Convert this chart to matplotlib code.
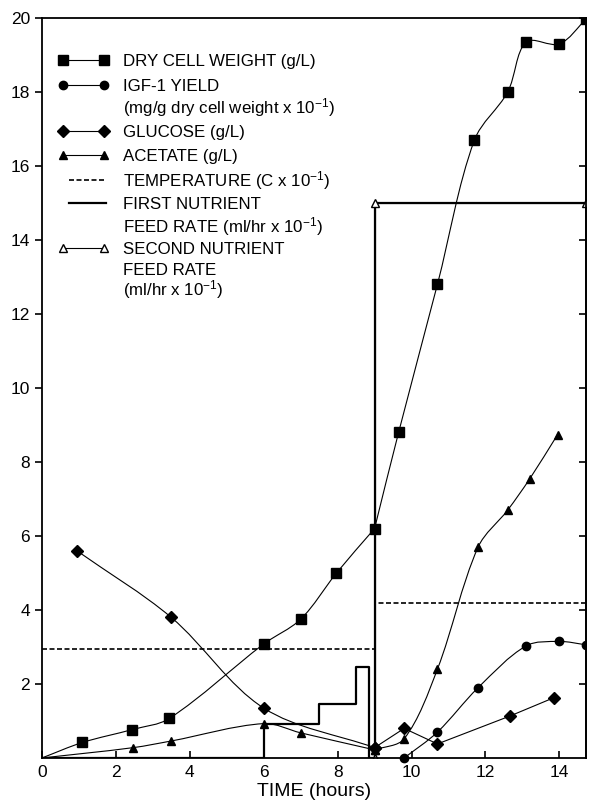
import matplotlib
matplotlib.use('Agg')
import matplotlib.pyplot as plt
import numpy as np
from matplotlib.path import Path
from matplotlib.patches import PathPatch

plt.rcParams['font.family'] = ['Liberation Sans', 'DejaVu Sans']
plt.rcParams['mathtext.fontset'] = 'custom'
plt.rcParams['mathtext.rm'] = 'Liberation Sans'
plt.rcParams['mathtext.it'] = 'Liberation Sans:italic'
plt.rcParams['mathtext.bf'] = 'Liberation Sans:bold'

# dry cell weight (g/L), before / after 9 h
dcw_t1 = [0, 1.1, 2.45, 3.45, 6.0, 7.0, 7.97, 9.0]
dcw1 = [0, 0.42, 0.77, 1.07, 3.08, 3.75, 5.0, 6.2]
dcw_t2 = [9.0, 9.65, 10.7, 11.7, 12.6, 13.1, 14.0, 14.72]
dcw2 = [6.2, 8.8, 12.8, 16.7, 18.0, 19.35, 19.3, 19.97]

# IGF-1 yield
igf_t = [9.8, 10.7, 11.8, 13.1, 14.0, 14.72]
igf = [0.0, 0.7, 1.9, 3.03, 3.15, 3.06]

# glucose (g/L), before / after 9 h
glu_t1 = [0.95, 3.5, 6.0, 9.0]
glu1 = [5.6, 3.8, 1.35, 0.28]
glu_t2 = [9.0, 9.8, 10.7, 12.65, 13.85]
glu2 = [0.28, 0.8, 0.38, 1.13, 1.63]

# acetate (g/L)
ace_t1 = [0, 2.47, 3.5, 6.0, 7.0, 9.0]
ace1 = [0, 0.28, 0.46, 0.93, 0.68, 0.22]
ace_t2 = [9.0, 9.8, 10.7, 11.8, 12.6, 13.2, 13.95]
ace2 = [0.22, 0.52, 2.4, 5.7, 6.7, 7.55, 8.74]

# temperature (C x 10^-1)
temp_t = [0, 9.0, 9.0, 14.72]
temp = [2.95, 2.95, 4.2, 4.2]

# first nutrient feed rate
feed1_t = [0, 6.0, 6.0, 7.5, 7.5, 8.5, 8.5, 8.85, 8.85, 9.0, 9.0, 14.72]
feed1 = [0, 0, 0.93, 0.93, 1.45, 1.45, 2.45, 2.45, 0, 0, 15.0, 15.0]

# second nutrient feed rate
feed2_t = [9.0, 9.0, 14.72]
feed2 = [0, 15.0, 15.0]


def smooth(ax, xs, ys, lw=0.8):
    # smooth curve through the points (bezier, tangents scaled by chord length)
    p = np.column_stack([xs, ys]).astype(float)
    n = len(p)
    d = np.hypot(*(p[1:] - p[:-1]).T)
    tan = np.zeros_like(p)
    tan[0] = (p[1] - p[0]) / d[0]
    tan[-1] = (p[-1] - p[-2]) / d[-1]
    for i in range(1, n - 1):
        tan[i] = (p[i + 1] - p[i - 1]) / (d[i - 1] + d[i])
    verts = [p[0]]
    codes = [Path.MOVETO]
    for i in range(n - 1):
        verts += [p[i] + tan[i] * d[i] / 3, p[i + 1] - tan[i + 1] * d[i] / 3, p[i + 1]]
        codes += [Path.CURVE4] * 3
    ax.add_patch(PathPatch(Path(verts, codes), fill=False, lw=lw, ec='black'))


fig = plt.figure(figsize=(5.89, 8.0), dpi=100)
ax = fig.add_axes([0.071, 0.0525, 0.924, 0.925])

smooth(ax, dcw_t1, dcw1)
smooth(ax, dcw_t2, dcw2)
ax.plot(dcw_t1[1:] + dcw_t2[1:], dcw1[1:] + dcw2[1:], 's', color='black', ms=7.5)

smooth(ax, igf_t, igf)
ax.plot(igf_t[:-1], igf[:-1], 'o', color='black', ms=6, clip_on=False)
ax.plot(igf_t[-1:], igf[-1:], 'o', color='black', ms=6)

smooth(ax, glu_t1, glu1)
ax.plot(glu_t2, glu2, '-', color='black', lw=0.8)
ax.plot(glu_t1 + glu_t2, glu1 + glu2, 'D', color='black', ms=5.8)

smooth(ax, ace_t1, ace1)
smooth(ax, ace_t2, ace2)
ax.plot(ace_t1[1:] + ace_t2, ace1[1:] + ace2, '^', color='black', ms=6)

ax.plot(temp_t, temp, color='black', lw=1.2, ls=(0, (3, 1.5)))
ax.plot(feed1_t, feed1, '-', color='black', lw=1.6)
ax.plot(feed2_t, feed2, '-', color='black', lw=0.8, marker='^', mfc='white', ms=6)

ax.set_xlim(0, 14.72)
ax.set_ylim(0, 20)
ax.set_xticks(range(0, 15, 2))
ax.set_yticks(range(2, 21, 2))
ax.tick_params(axis='y', direction='out', length=5, width=1.2, labelsize=12.5)
ax.tick_params(axis='x', direction='in', length=5, width=1.2, labelsize=12.5, pad=5)
sec = ax.secondary_yaxis('right')
sec.set_yticks(range(2, 21, 2))
sec.tick_params(direction='in', length=5, width=1.2, labelright=False)
sec.spines['right'].set_linewidth(1.3)
for side in ['left', 'right', 'top', 'bottom']:
    ax.spines[side].set_linewidth(1.3)
ax.set_xlabel('TIME (hours)', fontsize=14, labelpad=2)

# legend, one text line per row, handle on the first row of each entry
legend_rows = [
    ('DRY CELL WEIGHT (g/L)', dict(lw=0.8, marker='s', ms=7.5)),
    ('IGF-1 YIELD', dict(lw=0.8, marker='o', ms=6)),
    ('(mg/g dry cell weight x 10$^{-1}$)', None),
    ('GLUCOSE (g/L)', dict(lw=0.8, marker='D', ms=5.8)),
    ('ACETATE (g/L)', dict(lw=0.8, marker='^', ms=6)),
    ('TEMPERATURE (C x 10$^{-1}$)', dict(lw=1.2, ls=(0, (3, 1.5)))),
    ('FIRST NUTRIENT', dict(lw=1.6)),
    ('FEED RATE (ml/hr x 10$^{-1}$)', None),
    ('SECOND NUTRIENT', dict(lw=0.8, marker='^', mfc='white', ms=6)),
    ('FEED RATE', None),
    ('(ml/hr x 10$^{-1}$)', None),
]
row_px = [60, 85, 107, 131, 155, 180, 203, 226, 248, 269, 289]
for (txt, style), rp in zip(legend_rows, row_px):
    yy = (758 - rp) / 740.0
    if style is not None:
        if 'marker' in style:
            hx = [0.0386, 0.1140]
        else:
            hx = [0.050, 0.1180]
        ax.plot(hx, [yy, yy], color='black', transform=ax.transAxes, clip_on=False, **style)
    ax.text(0.149, yy - 6.0 / 740.0, txt, transform=ax.transAxes, fontsize=12.2,
            va='baseline', ha='left')

fig.savefig('out.png', dpi=100)
